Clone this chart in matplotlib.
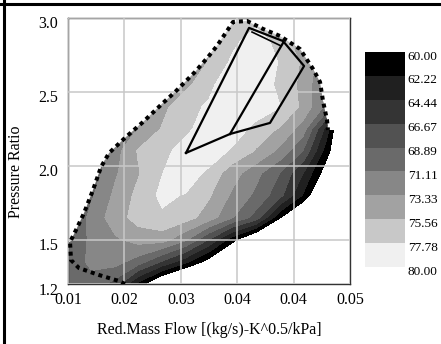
import matplotlib
matplotlib.use('Agg')
import matplotlib.pyplot as plt
import numpy as np
from matplotlib.path import Path
from matplotlib.patches import PathPatch
from matplotlib.lines import Line2D
from matplotlib.transforms import ScaledTranslation

plt.rcParams['font.family'] = ['Liberation Serif', 'DejaVu Serif']

# grid of the efficiency map
flow = np.linspace(0.0125, 0.05, 13)
pr = np.linspace(1.2, 3.0, 13)
eff = np.array([
    [70.0, 70.5, 68.0, 61.5, 56.0, 52.0, 49.0, 46.0, 44.0, 42.0, 40.0, 38.0, 36.0],
    [70.0, 71.5, 72.0, 70.0, 66.4, 62.9, 58.8, 55.0, 52.0, 49.0, 47.0, 45.0, 43.0],
    [69.0, 71.6, 73.0, 74.2, 74.3, 71.5, 66.5, 60.8, 56.0, 52.5, 50.0, 48.0, 46.0],
    [68.5, 71.8, 74.5, 76.5, 77.4, 76.5, 74.5, 71.2, 68.0, 60.3, 55.0, 51.5, 49.0],
    [66.5, 70.8, 73.8, 76.2, 78.3, 77.6, 75.8, 72.9, 70.6, 67.5, 62.0, 55.0, 51.0],
    [65.5, 69.8, 73.0, 75.4, 77.7, 79.6, 77.0, 74.3, 71.8, 68.9, 64.5, 58.5, 52.0],
    [64.0, 68.5, 72.4, 75.8, 76.6, 79.4, 80.0, 77.2, 75.4, 72.8, 68.8, 61.0, 54.0],
    [62.5, 66.5, 70.0, 73.5, 75.7, 76.8, 80.2, 80.5, 76.6, 75.4, 72.3, 63.5, 52.0],
    [62.0, 65.5, 68.8, 71.8, 75.0, 76.8, 78.2, 81.0, 80.5, 77.9, 75.0, 70.5, 60.0],
    [60.0, 63.0, 66.0, 69.5, 72.5, 75.0, 77.0, 80.5, 81.2, 77.0, 75.0, 70.5, 62.0],
    [57.0, 60.0, 63.5, 67.0, 70.0, 72.8, 75.8, 78.2, 80.5, 77.6, 75.2, 71.5, 64.0],
    [54.0, 57.5, 61.0, 64.5, 67.5, 71.0, 74.5, 77.2, 78.8, 77.0, 73.5, 69.0, 63.0],
    [52.0, 55.5, 59.0, 62.5, 65.5, 69.0, 72.5, 75.5, 77.0, 75.5, 72.0, 67.5, 62.0],
])

levels = [60.00, 62.22, 64.44, 66.67, 68.89, 71.11, 73.33, 75.56, 77.78, 80.00]
band_colors = ['#000000', '#202020', '#343434', '#525252', '#6a6a6a',
               '#878787', '#a2a2a2', '#c8c8c8', '#f0f0f0']

# surge / choke limit (dotted)
surge_x = [0.02008, 0.01928, 0.01662, 0.01396, 0.0129, 0.01277, 0.01356, 0.01463,
           0.01582, 0.01689, 0.01795, 0.02021, 0.02247, 0.02513, 0.02673, 0.02939,
           0.03112, 0.03231, 0.03364, 0.03444, 0.0363, 0.03843, 0.04069, 0.04335,
           0.04508, 0.04601, 0.04641, 0.04694, 0.04707]
surge_y = [1.2, 1.22, 1.261, 1.308, 1.362, 1.484, 1.565, 1.68, 1.836, 1.992, 2.086,
           2.195, 2.296, 2.425, 2.499, 2.635, 2.736, 2.811, 2.912, 2.973, 2.98, 2.926,
           2.878, 2.79, 2.655, 2.567, 2.438, 2.31, 2.242]

# operating region
op_x = [0.02819, 0.03657, 0.04109, 0.04389, 0.03936, 0.03404, 0.02819]
op_y = [2.087, 2.933, 2.844, 2.675, 2.29, 2.215, 2.087]
mid_x = [0.04109, 0.03404]
mid_y = [2.831, 2.215]
top_x = [0.03697, 0.04083]
top_y = [2.905, 2.811]

xticks = [0.0125, 0.02, 0.0275, 0.035, 0.0425, 0.05]
xlabels = ['0.01', '0.02', '0.03', '0.04', '0.04', '0.05']
yticks = [1.2, 1.5, 2.0, 2.5, 3.0]
ylabels = ['1.2', '1.5', '2.0', '2.5', '3.0']

fig = plt.figure(figsize=(4.41, 3.44), dpi=100)
ax = fig.add_axes([0.1542, 0.1744, 0.6395, 0.7733])

cs = ax.contourf(flow, pr, np.clip(eff, None, 79.99), levels=levels, colors=band_colors)
clip_verts = [(flow[0], pr[0]), (flow[0], surge_y[5])] + \
    list(zip(surge_x[5:], surge_y[5:])) + [(0.06, surge_y[-1]), (0.06, pr[0])]
clip = PathPatch(Path(clip_verts), transform=ax.transData, facecolor='none', edgecolor='none')
cs.set_clip_path(clip)

ax.plot(surge_x, surge_y, color='black', lw=2.9, linestyle=(0, (1, 1)), zorder=3)
ax.plot(op_x, op_y, color='black', lw=1.6, zorder=3)
ax.plot(mid_x, mid_y, color='black', lw=1.6, zorder=3)
ax.plot(top_x, top_y, color='black', lw=1.2, zorder=3)

ax.set_xlim(0.0125, 0.05)
ax.set_ylim(1.2, 3.0)
ax.set_xticks(xticks)
ax.set_xticklabels(xlabels)
ax.set_yticks(yticks)
ax.set_yticklabels(ylabels)
ax.grid(True, color='#c8c8c8', lw=1.1)
ax.set_axisbelow(False)
ax.tick_params(axis='both', length=0, labelsize=11.5)
ax.tick_params(axis='x', pad=6)
ax.tick_params(axis='y', pad=7)
for lab in ax.get_yticklabels():
    lab.set_transform(lab.get_transform() + ScaledTranslation(0, -0.045, fig.dpi_scale_trans))
for s in ax.spines.values():
    s.set_color('#333333')
    s.set_linewidth(1.0)

ax.set_xlabel('Red.Mass Flow [(kg/s)-K^0.5/kPa]', fontsize=11.5)
ax.xaxis.set_label_coords(0.5, -0.143)
ax.set_ylabel('Pressure Ratio', fontsize=11.5)
ax.yaxis.set_label_coords(-0.156, 0.421)

cax = fig.add_axes([0.8277, 0.2238, 0.0907, 0.625])
cb = fig.colorbar(cs, cax=cax, ticks=levels)
cb.outline.set_visible(False)
cax.invert_yaxis()
cax.tick_params(length=0, labelsize=9.5, pad=2)
cax.set_yticklabels(['%.2f' % v for v in levels])
for lab in cax.get_yticklabels():
    lab.set_transform(lab.get_transform() + ScaledTranslation(0, -0.03, fig.dpi_scale_trans))

fig.add_artist(Line2D([3.5 / 441] * 2, [0, 1], transform=fig.transFigure, color='black', lw=2.2))
fig.add_artist(Line2D([0, 1], [1 - 3.5 / 344] * 2, transform=fig.transFigure, color='black', lw=2.2))

fig.savefig('out.png', dpi=100)
